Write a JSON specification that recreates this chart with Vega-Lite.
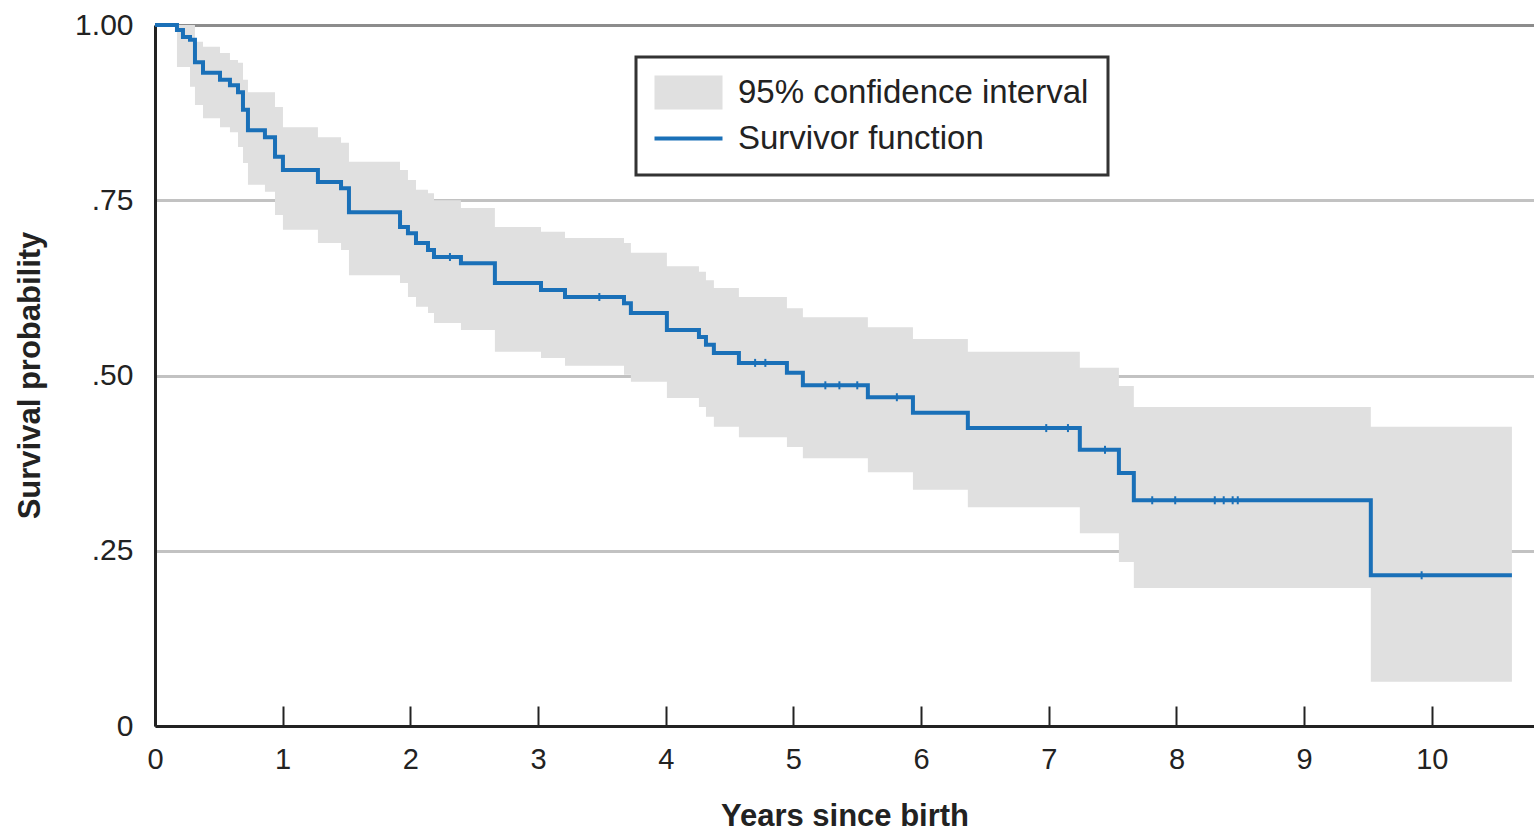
{
  "$schema": "https://vega.github.io/schema/vega-lite/v6.json",
  "width": 1379,
  "height": 701,
  "autosize": {"type": "none"},
  "padding": {"left": 155, "top": 25, "right": 0, "bottom": 106},
  "background": "white",
  "datasets": {
    "km": [
      {"t": 0, "S": 1.0, "lo": 1.0, "hi": 1.0},
      {"t": 0.172, "S": 0.993, "lo": 0.940, "hi": 1.0},
      {"t": 0.219, "S": 0.983, "lo": 0.940, "hi": 1.0},
      {"t": 0.274, "S": 0.979, "lo": 0.912, "hi": 1.0},
      {"t": 0.313, "S": 0.947, "lo": 0.886, "hi": 0.976},
      {"t": 0.376, "S": 0.932, "lo": 0.867, "hi": 0.969},
      {"t": 0.509, "S": 0.922, "lo": 0.854, "hi": 0.960},
      {"t": 0.587, "S": 0.914, "lo": 0.847, "hi": 0.950},
      {"t": 0.650, "S": 0.904, "lo": 0.826, "hi": 0.946},
      {"t": 0.689, "S": 0.879, "lo": 0.803, "hi": 0.922},
      {"t": 0.728, "S": 0.850, "lo": 0.772, "hi": 0.904},
      {"t": 0.861, "S": 0.840, "lo": 0.762, "hi": 0.904},
      {"t": 0.940, "S": 0.812, "lo": 0.729, "hi": 0.883},
      {"t": 1.002, "S": 0.793, "lo": 0.708, "hi": 0.854},
      {"t": 1.276, "S": 0.776, "lo": 0.689, "hi": 0.840},
      {"t": 1.457, "S": 0.767, "lo": 0.679, "hi": 0.832},
      {"t": 1.519, "S": 0.733, "lo": 0.643, "hi": 0.805},
      {"t": 1.919, "S": 0.712, "lo": 0.632, "hi": 0.793},
      {"t": 1.981, "S": 0.703, "lo": 0.612, "hi": 0.779},
      {"t": 2.044, "S": 0.689, "lo": 0.598, "hi": 0.765},
      {"t": 2.138, "S": 0.679, "lo": 0.589, "hi": 0.760},
      {"t": 2.185, "S": 0.669, "lo": 0.575, "hi": 0.750},
      {"t": 2.396, "S": 0.660, "lo": 0.565, "hi": 0.739},
      {"t": 2.662, "S": 0.632, "lo": 0.534, "hi": 0.712},
      {"t": 3.023, "S": 0.622, "lo": 0.525, "hi": 0.705},
      {"t": 3.211, "S": 0.612, "lo": 0.514, "hi": 0.696},
      {"t": 3.673, "S": 0.603, "lo": 0.501, "hi": 0.689},
      {"t": 3.727, "S": 0.589, "lo": 0.491, "hi": 0.675},
      {"t": 4.009, "S": 0.565, "lo": 0.468, "hi": 0.656},
      {"t": 4.260, "S": 0.555, "lo": 0.455, "hi": 0.648},
      {"t": 4.315, "S": 0.544, "lo": 0.441, "hi": 0.636},
      {"t": 4.377, "S": 0.532, "lo": 0.427, "hi": 0.625},
      {"t": 4.573, "S": 0.518, "lo": 0.412, "hi": 0.612},
      {"t": 4.949, "S": 0.504, "lo": 0.398, "hi": 0.596},
      {"t": 5.074, "S": 0.486, "lo": 0.382, "hi": 0.583},
      {"t": 5.583, "S": 0.469, "lo": 0.362, "hi": 0.569},
      {"t": 5.936, "S": 0.447, "lo": 0.337, "hi": 0.552},
      {"t": 6.366, "S": 0.425, "lo": 0.312, "hi": 0.534},
      {"t": 7.243, "S": 0.394, "lo": 0.275, "hi": 0.511},
      {"t": 7.549, "S": 0.361, "lo": 0.234, "hi": 0.485},
      {"t": 7.666, "S": 0.322, "lo": 0.197, "hi": 0.455},
      {"t": 9.522, "S": 0.215, "lo": 0.063, "hi": 0.427},
      {"t": 10.627, "S": 0.215, "lo": 0.063, "hi": 0.427}
    ],
    "censor": [
      {"t": 2.31, "S": 0.669},
      {"t": 3.48, "S": 0.612},
      {"t": 4.70, "S": 0.518},
      {"t": 4.78, "S": 0.518},
      {"t": 5.25, "S": 0.486},
      {"t": 5.36, "S": 0.486},
      {"t": 5.50, "S": 0.486},
      {"t": 5.81, "S": 0.469},
      {"t": 6.98, "S": 0.425},
      {"t": 7.15, "S": 0.425},
      {"t": 7.44, "S": 0.394},
      {"t": 7.81, "S": 0.322},
      {"t": 7.99, "S": 0.322},
      {"t": 8.30, "S": 0.322},
      {"t": 8.37, "S": 0.322},
      {"t": 8.44, "S": 0.322},
      {"t": 8.48, "S": 0.322},
      {"t": 9.92, "S": 0.215}
    ]
  },
  "encoding": {
    "x": {
      "field": "t",
      "type": "quantitative",
      "scale": {"domain": [0, 10.8], "nice": false, "zero": false},
      "axis": {
        "title": "Years since birth",
        "values": [0, 1, 2, 3, 4, 5, 6, 7, 8, 9, 10],
        "format": "d",
        "grid": false,
        "domainColor": "#222222",
        "domainWidth": 3,
        "ticks": true,
        "tickSize": -20,
        "tickWidth": 2,
        "tickColor": "#222222",
        "labelFont": "Liberation Sans",
        "labelFontSize": 29,
        "labelColor": "#222222",
        "labelPadding": 39,
        "labelFlush": false,
        "labelOverlap": false,
        "titleFont": "Liberation Sans",
        "titleFontSize": 31,
        "titleFontWeight": "bold",
        "titleColor": "#222222",
        "titleBaseline": "alphabetic",
        "titleY": 99
      }
    },
    "y": {
      "field": "S",
      "type": "quantitative",
      "scale": {"domain": [0, 1], "nice": false},
      "axis": {
        "title": "Survival probability",
        "values": [0, 0.25, 0.5, 0.75, 1],
        "labelExpr": "datum.value === 0 ? '0' : (datum.value === 1 ? '1.00' : replace(format(datum.value, '.2f'), '0.', '.'))",
        "grid": true,
        "gridColor": {"condition": {"test": "datum.value === 1", "value": "#8c8c8c"}, "value": "#c2c2c2"},
        "gridWidth": 3,
        "ticks": false,
        "domainColor": "#222222",
        "domainWidth": 3,
        "labelFont": "Liberation Sans",
        "labelFontSize": 30,
        "labelColor": "#222222",
        "labelPadding": 22,
        "labelFlush": false,
        "labelOverlap": false,
        "titleFont": "Liberation Sans",
        "titleFontSize": 31,
        "titleFontWeight": "bold",
        "titleColor": "#222222",
        "titleAngle": -90,
        "titleAlign": "center",
        "titleBaseline": "middle",
        "titleX": -125,
        "titleY": 350
      }
    }
  },
  "layer": [
    {
      "data": {"name": "km"},
      "mark": {"type": "area", "interpolate": "step-after", "opacity": 1},
      "encoding": {
        "y": {"field": "lo", "type": "quantitative"},
        "y2": {"field": "hi"},
        "color": {
          "datum": "95% confidence interval",
          "type": "nominal",
          "scale": {"domain": ["95% confidence interval", "Survivor function"], "range": ["#e0e0e0", "#1a70b8"]},
          "legend": {
            "title": null,
            "orient": "none",
            "legendX": 481,
            "legendY": 32,
            "padding": 19,
            "symbolSize": 1156,
            "symbolOpacity": 1,
            "labelOffset": 50,
            "rowPadding": 12,
            "encode": {
              "symbols": {
                "update": {
                  "shape": {"signal": "datum.value === 'Survivor function' ? 'M-1,0H3' : 'M-1,-1H3V1H-1Z'"},
                  "fill": {"signal": "datum.value === 'Survivor function' ? 'transparent' : '#e0e0e0'"},
                  "stroke": {"signal": "datum.value === 'Survivor function' ? '#1a70b8' : 'transparent'"},
                  "strokeWidth": {"signal": "datum.value === 'Survivor function' ? 4 : 0"},
                  "opacity": {"value": 1}
                }
              }
            }
          }
        }
      }
    },
    {
      "data": {"name": "km"},
      "mark": {"type": "line", "interpolate": "step-after", "strokeWidth": 4},
      "encoding": {
        "color": {"datum": "Survivor function", "type": "nominal"}
      }
    },
    {
      "data": {"name": "censor"},
      "mark": {"type": "tick", "orient": "vertical", "size": 8, "thickness": 2, "color": "#1a70b8", "opacity": 1},
      "encoding": {}
    }
  ],
  "config": {
    "view": {"stroke": null},
    "legend": {
      "labelFont": "Liberation Sans",
      "labelFontSize": 33,
      "labelColor": "#222222",
      "labelLimit": 1000,
      "strokeColor": "#333333",
      "strokeWidth": 3,
      "fillColor": "white"
    }
  }
}
